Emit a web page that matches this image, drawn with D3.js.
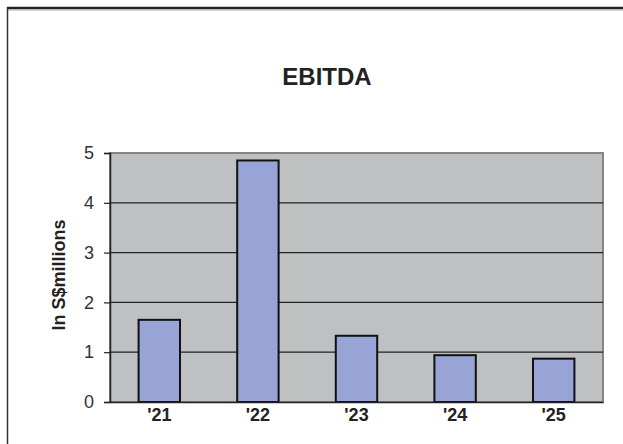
<!DOCTYPE html>
<html>
<head>
<meta charset="utf-8">
<script src="https://cdn.jsdelivr.net/npm/d3@7"></script>
<style>
  body { margin: 0; background: #fff; }
  svg { display: block; font-family: "Liberation Sans", Arial, sans-serif; }
</style>
</head>
<body>
<div id="chart"></div>
<script>
// chart data
var years = ["'21", "'22", "'23", "'24", "'25"];
var ebitda = [1.65, 4.85, 1.33, 0.94, 0.87];
var yTicks = [0, 1, 2, 3, 4, 5];

var width = 623, height = 444;
var plot = { left: 110, right: 603, top: 153, bottom: 402 };

var svg = d3.select('#chart').append('svg')
  .attr('width', width)
  .attr('height', height);

// outer frame (top + left edge)
svg.append('line').attr('x1', 7).attr('x2', width).attr('y1', 8).attr('y2', 8)
  .attr('stroke', '#222').attr('stroke-width', 2.5);
svg.append('line').attr('x1', 7).attr('x2', width).attr('y1', 10).attr('y2', 10)
  .attr('stroke', '#aaa').attr('stroke-width', 1);
svg.append('line').attr('x1', 7.5).attr('x2', 7.5).attr('y1', 7).attr('y2', height)
  .attr('stroke', '#333').attr('stroke-width', 1.5);

var x = d3.scaleBand().domain(years).range([plot.left, plot.right]).paddingInner(0.58).paddingOuter(0.29);
var y = d3.scaleLinear().domain([0, 5]).range([plot.bottom, plot.top]);

// plot area
svg.append('rect')
  .attr('x', plot.left).attr('y', plot.top)
  .attr('width', plot.right - plot.left).attr('height', plot.bottom - plot.top)
  .attr('fill', '#bec0c2').attr('stroke', '#858585').attr('stroke-width', 2);

// gridlines
svg.append('g').selectAll('line')
  .data(yTicks.filter(function (d) { return d > 0 && d < 5; }))
  .enter().append('line')
  .attr('x1', plot.left).attr('x2', plot.right)
  .attr('y1', function (d) { return y(d); }).attr('y2', function (d) { return y(d); })
  .attr('stroke', '#222').attr('stroke-width', 1.2);

// bars
svg.append('g').selectAll('rect')
  .data(ebitda)
  .enter().append('rect')
  .attr('x', function (d, i) { return x(years[i]); })
  .attr('y', function (d) { return y(d); })
  .attr('width', x.bandwidth())
  .attr('height', function (d) { return y(0) - y(d); })
  .attr('fill', '#98a4d6')
  .attr('stroke', '#111')
  .attr('stroke-width', 2);

// y axis
var yAxis = svg.append('g')
  .attr('transform', 'translate(' + plot.left + ',0)')
  .call(d3.axisLeft(y).tickValues(yTicks).tickSize(6).tickPadding(10).tickFormat(d3.format('d')));
yAxis.select('.domain').attr('stroke', '#222').attr('stroke-width', 1.5);
yAxis.selectAll('.tick line').attr('stroke', '#222').attr('stroke-width', 1.2);
yAxis.selectAll('text').attr('font-size', 18).attr('fill', '#333').style('font-family', '"Liberation Sans", Arial, sans-serif');

// x axis
var xAxis = svg.append('g')
  .attr('transform', 'translate(0,' + plot.bottom + ')')
  .call(d3.axisBottom(x).tickSize(0).tickPadding(6));
xAxis.select('.domain').attr('stroke', '#222').attr('stroke-width', 1.5);
xAxis.selectAll('text').attr('font-size', 18).attr('font-weight', 'bold').attr('fill', '#222')
  .style('font-family', '"Liberation Sans", Arial, sans-serif');

// title
svg.append('text')
  .attr('x', 327).attr('y', 85)
  .attr('text-anchor', 'middle')
  .attr('font-size', 24).attr('font-weight', 'bold').attr('fill', '#222')
  .text('EBITDA');

// y axis label
svg.append('text')
  .attr('transform', 'translate(65,275) rotate(-90)')
  .attr('text-anchor', 'middle')
  .attr('font-size', 18).attr('font-weight', 'bold').attr('fill', '#222')
  .text('In S$millions');
</script>
</body>
</html>
